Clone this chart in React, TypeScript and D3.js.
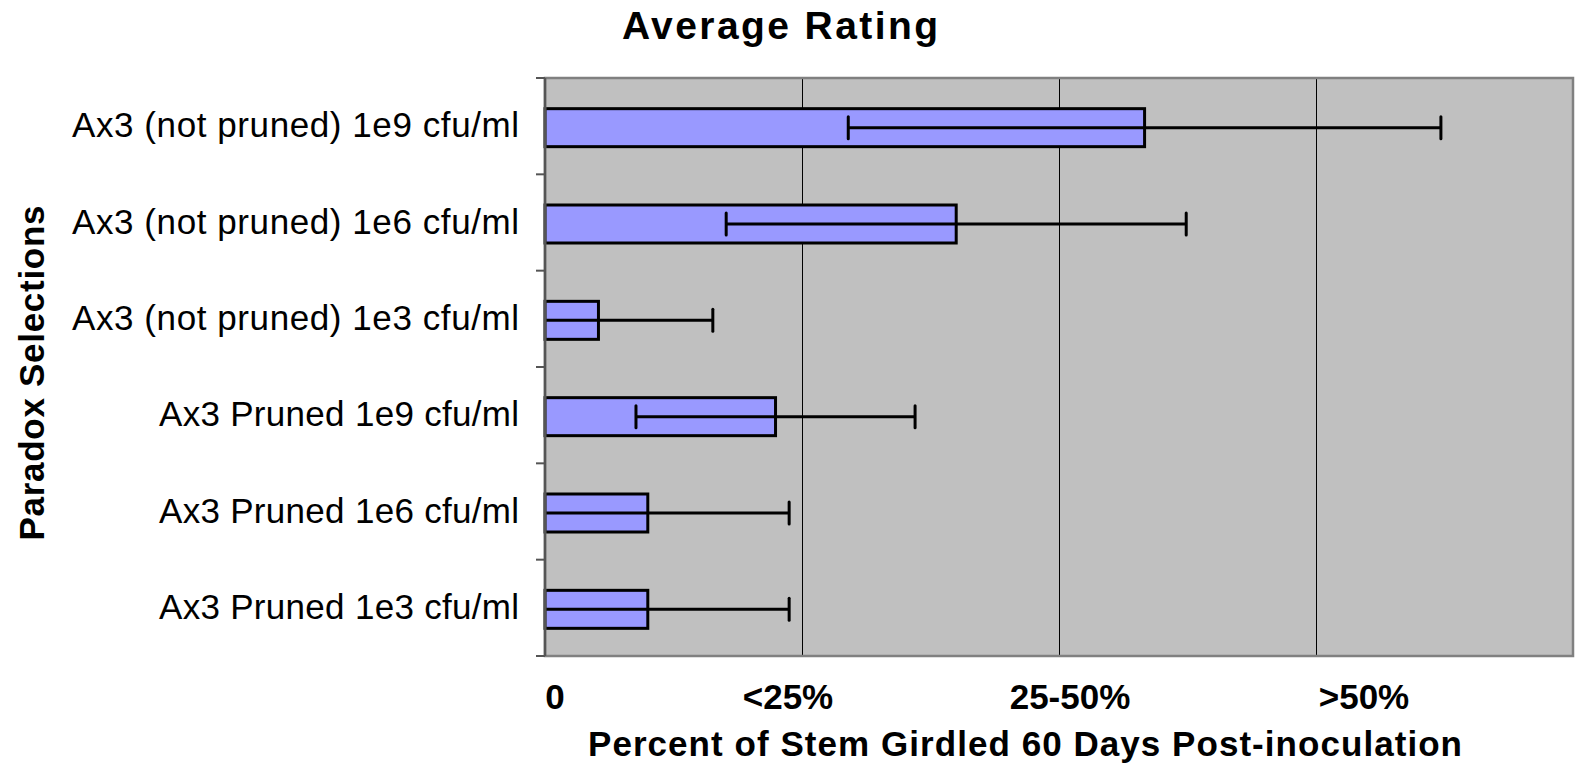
import React from "react";
import * as d3 from "d3";

const categories = [
  "Ax3 (not pruned) 1e9 cfu/ml",
  "Ax3 (not pruned) 1e6 cfu/ml",
  "Ax3 (not pruned) 1e3 cfu/ml",
  "Ax3 Pruned 1e9 cfu/ml",
  "Ax3 Pruned 1e6 cfu/ml",
  "Ax3 Pruned 1e3 cfu/ml",
];
const means = [2.333, 1.6, 0.208, 0.897, 0.4, 0.4];
const errors = [1.153, 0.895, 0.445, 0.543, 0.55, 0.55];
const tickValues = [0, 1, 2, 3];
const tickLabels = ["0", "<25%", "25-50%", ">50%"];
const gridValues = [1, 2, 3];

// layout (not data)
const W = 1575;
const H = 765;
const plot = { left: 545, right: 1573, top: 78, bottom: 656 };
const tickLabelOffsets = [10, -14, 11, 48];
const categoryLabelWidths = [447, 447, 447, 360, 360, 360];
const FONT = "'Liberation Sans', Arial, Helvetica, sans-serif";

export default function App() {
  const x = d3.scaleLinear().domain([0, 4]).range([plot.left, plot.right]);
  const y = d3
    .scaleBand<string>()
    .domain(categories)
    .range([plot.top, plot.bottom])
    .paddingInner(0)
    .paddingOuter(0);
  const bw = y.bandwidth();
  const barH = 38;
  const capH = 22;
  const boundaries = d3.range(categories.length + 1).map((i) => plot.top + i * bw);

  return (
    <svg
      width={W}
      height={H}
      style={{ position: "absolute", left: 0, top: 0, background: "#fff" }}
      fontFamily={FONT}
    >
      <rect x={0} y={0} width={W} height={H} fill="#fff" />
      {/* plot background */}
      <rect
        x={plot.left}
        y={plot.top}
        width={plot.right - plot.left}
        height={plot.bottom - plot.top}
        fill="#C0C0C0"
      />
      {/* gridlines */}
      {gridValues.map((v) => (
        <line
          key={v}
          x1={Math.round(x(v)) + 0.5}
          x2={Math.round(x(v)) + 0.5}
          y1={plot.top}
          y2={plot.bottom}
          stroke="#000"
          strokeWidth={1}
        />
      ))}
      {/* bars */}
      {categories.map((c, i) => {
        const cy = (y(c) as number) + bw / 2 + 1.5;
        return (
          <rect
            key={c}
            x={x(0)}
            y={cy - barH / 2}
            width={x(means[i]) - x(0)}
            height={barH}
            fill="#9999FF"
            stroke="#000"
            strokeWidth={3}
          />
        );
      })}
      {/* error bars */}
      {categories.map((c, i) => {
        const cy = (y(c) as number) + bw / 2 + 1.5;
        const lo = means[i] - errors[i];
        const hi = means[i] + errors[i];
        const xl = x(Math.max(0, lo));
        const xh = x(hi);
        return (
          <g key={c} stroke="#000" strokeWidth={3}>
            <line x1={xl} x2={xh} y1={cy} y2={cy} />
            <line x1={xh} x2={xh} y1={cy - capH / 2} y2={cy + capH / 2} strokeLinecap="round" />
            {lo > 0 && (
              <line x1={xl} x2={xl} y1={cy - capH / 2} y2={cy + capH / 2} strokeLinecap="round" />
            )}
          </g>
        );
      })}
      {/* plot border */}
      <rect
        x={plot.left}
        y={plot.top}
        width={plot.right - plot.left}
        height={plot.bottom - plot.top}
        fill="none"
        stroke="#808080"
        strokeWidth={2.5}
      />
      {/* left axis */}
      <line x1={plot.left} x2={plot.left} y1={plot.top} y2={plot.bottom} stroke="#555" strokeWidth={2.5} />
      {boundaries.map((b, i) => (
        <line key={i} x1={plot.left - 9} x2={plot.left} y1={b} y2={b} stroke="#555" strokeWidth={2} />
      ))}
      {/* category labels */}
      {categories.map((c, i) => (
        <text
          key={c}
          x={519 - categoryLabelWidths[i]}
          y={(y(c) as number) + bw / 2 + 11}
          fontSize={35}
          textLength={categoryLabelWidths[i]}
          lengthAdjust="spacing"
          fill="#000"
        >
          {c}
        </text>
      ))}
      {/* x tick labels */}
      {tickValues.map((v, i) => (
        <text
          key={v}
          x={x(v) + tickLabelOffsets[i]}
          y={709}
          fontSize={35}
          fontWeight="bold"
          textAnchor="middle"
          fill="#000"
        >
          {tickLabels[i]}
        </text>
      ))}
      {/* x axis title */}
      <text
        x={588}
        y={756}
        fontSize={35}
        fontWeight="bold"
        textLength={874}
        lengthAdjust="spacing"
        fill="#000"
      >
        Percent of Stem Girdled 60 Days Post-inoculation
      </text>
      {/* chart title */}
      <text
        x={622}
        y={39}
        fontSize={39}
        fontWeight="bold"
        textLength={316}
        lengthAdjust="spacing"
        fill="#000"
      >
        Average Rating
      </text>
      {/* y axis title */}
      <text
        transform={`translate(44, ${373 + 335 / 2}) rotate(-90)`}
        x={0}
        y={0}
        fontSize={35}
        fontWeight="bold"
        textLength={335}
        lengthAdjust="spacing"
        fill="#000"
      >
        Paradox Selections
      </text>
    </svg>
  );
}
